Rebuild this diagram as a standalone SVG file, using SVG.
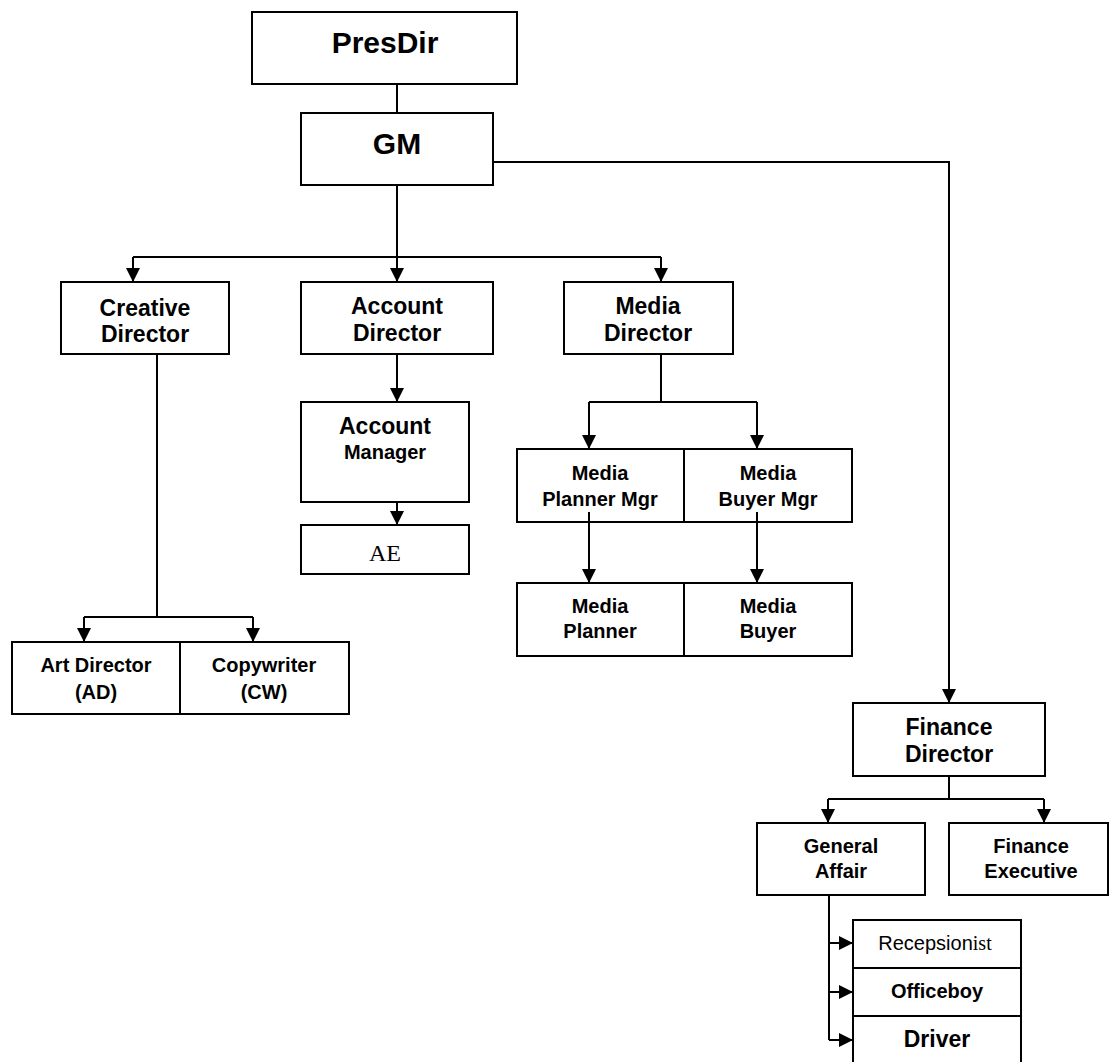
<svg xmlns="http://www.w3.org/2000/svg" width="1110" height="1062" viewBox="0 0 1110 1062">
<defs>
<marker id="arr" markerUnits="userSpaceOnUse" markerWidth="14" markerHeight="14" refX="14" refY="7" orient="auto">
<path d="M0,0 L14,7 L0,14 z" fill="#000"/>
</marker>
<style>
rect{fill:#fff;stroke:#000;stroke-width:2}
.c line,.c path{stroke:#000;stroke-width:2;fill:none}
text{font-family:"Liberation Sans",Arial,sans-serif;font-weight:bold;text-anchor:middle;fill:#000}
.serif{font-family:"Liberation Serif","Times New Roman",serif;font-weight:normal}
.reg{font-weight:normal}
</style>
</defs>
<rect x="0" y="0" width="1110" height="1062" style="stroke:none"/>
<g class="c" id="connectors">
<line x1="397" y1="84" x2="397" y2="113"/>
<line x1="397" y1="185" x2="397" y2="257"/>
<line x1="133" y1="257" x2="661" y2="257"/>
<line x1="133" y1="257" x2="133" y2="282" marker-end="url(#arr)"/>
<line x1="397" y1="257" x2="397" y2="282" marker-end="url(#arr)"/>
<line x1="661" y1="257" x2="661" y2="282" marker-end="url(#arr)"/>
<path d="M493,162 H949 V703" marker-end="url(#arr)"/>
<line x1="157" y1="354" x2="157" y2="617"/>
<line x1="84" y1="617" x2="253" y2="617"/>
<line x1="84" y1="617" x2="84" y2="642" marker-end="url(#arr)"/>
<line x1="253" y1="617" x2="253" y2="642" marker-end="url(#arr)"/>
<line x1="397" y1="354" x2="397" y2="402" marker-end="url(#arr)"/>
<line x1="397" y1="502" x2="397" y2="525" marker-end="url(#arr)"/>
<line x1="661" y1="354" x2="661" y2="402"/>
<line x1="589" y1="402" x2="757" y2="402"/>
<line x1="589" y1="402" x2="589" y2="449" marker-end="url(#arr)"/>
<line x1="757" y1="402" x2="757" y2="449" marker-end="url(#arr)"/>
<line x1="949" y1="776" x2="949" y2="799"/>
<line x1="828" y1="799" x2="1044" y2="799"/>
<line x1="828" y1="799" x2="828" y2="823" marker-end="url(#arr)"/>
<line x1="1044" y1="799" x2="1044" y2="823" marker-end="url(#arr)"/>
<line x1="829" y1="895" x2="829" y2="1040"/>
<line x1="829" y1="943" x2="853" y2="943" marker-end="url(#arr)"/>
<line x1="829" y1="992" x2="853" y2="992" marker-end="url(#arr)"/>
<line x1="829" y1="1040" x2="853" y2="1040" marker-end="url(#arr)"/>
</g>
<g id="presdir"><rect x="252" y="12" width="265" height="72"/><text x="385" y="53" font-size="30">PresDir</text></g>
<g id="gm"><rect x="301" y="113" width="192" height="72"/><text x="397" y="154" font-size="30">GM</text></g>
<g id="creative-director"><rect x="61" y="282" width="168" height="72"/><text x="145" y="316" font-size="23">Creative</text><text x="145" y="342" font-size="23">Director</text></g>
<g id="account-director"><rect x="301" y="282" width="192" height="72"/><text x="397" y="314" font-size="23">Account</text><text x="397" y="341" font-size="23">Director</text></g>
<g id="media-director"><rect x="564" y="282" width="169" height="72"/><text x="648" y="314" font-size="23">Media</text><text x="648" y="341" font-size="23">Director</text></g>
<g id="account-manager"><rect x="301" y="402" width="168" height="100"/><text x="385" y="434" font-size="23">Account</text><text x="385" y="459" font-size="20">Manager</text></g>
<g id="ae"><rect x="301" y="525" width="168" height="49"/><text class="serif" x="385" y="561" font-size="24">AE</text></g>
<g id="media-planner-mgr"><rect x="517" y="449" width="167" height="73"/><text x="600" y="480" font-size="20">Media</text><text x="600" y="506" font-size="20">Planner Mgr</text></g>
<g id="media-buyer-mgr"><rect x="684" y="449" width="168" height="73"/><text x="768" y="480" font-size="20">Media</text><text x="768" y="506" font-size="20">Buyer Mgr</text></g>
<g class="c"><line x1="589" y1="512" x2="589" y2="583" marker-end="url(#arr)"/><line x1="757" y1="512" x2="757" y2="583" marker-end="url(#arr)"/></g>
<g id="media-planner"><rect x="517" y="583" width="167" height="73"/><text x="600" y="613" font-size="20">Media</text><text x="600" y="638" font-size="20">Planner</text></g>
<g id="media-buyer"><rect x="684" y="583" width="168" height="73"/><text x="768" y="613" font-size="20">Media</text><text x="768" y="638" font-size="20">Buyer</text></g>
<g id="art-director"><rect x="12" y="642" width="168" height="72"/><text x="96" y="672" font-size="20">Art Director</text><text x="96" y="699" font-size="20">(AD)</text></g>
<g id="copywriter"><rect x="180" y="642" width="169" height="72"/><text x="264" y="672" font-size="20">Copywriter</text><text x="264" y="699" font-size="20">(CW)</text></g>
<g id="finance-director"><rect x="853" y="703" width="192" height="73"/><text x="949" y="735" font-size="23">Finance</text><text x="949" y="762" font-size="23">Director</text></g>
<g id="general-affair"><rect x="757" y="823" width="168" height="72"/><text x="841" y="853" font-size="20">General</text><text x="841" y="878" font-size="20">Affair</text></g>
<g id="finance-executive"><rect x="949" y="823" width="159" height="72"/><text x="1031" y="853" font-size="20">Finance</text><text x="1031" y="878" font-size="20">Executive</text></g>
<g id="recepsionist"><rect x="853" y="920" width="168" height="48"/><text x="935" y="950" font-size="20" class="reg">Recepsion<tspan class="serif">ist</tspan></text></g>
<g id="officeboy"><rect x="853" y="968" width="168" height="48"/><text x="937" y="998" font-size="20">Officeboy</text></g>
<g id="driver"><rect x="853" y="1016" width="168" height="60"/><text x="937" y="1047" font-size="23">Driver</text></g>
</svg>
